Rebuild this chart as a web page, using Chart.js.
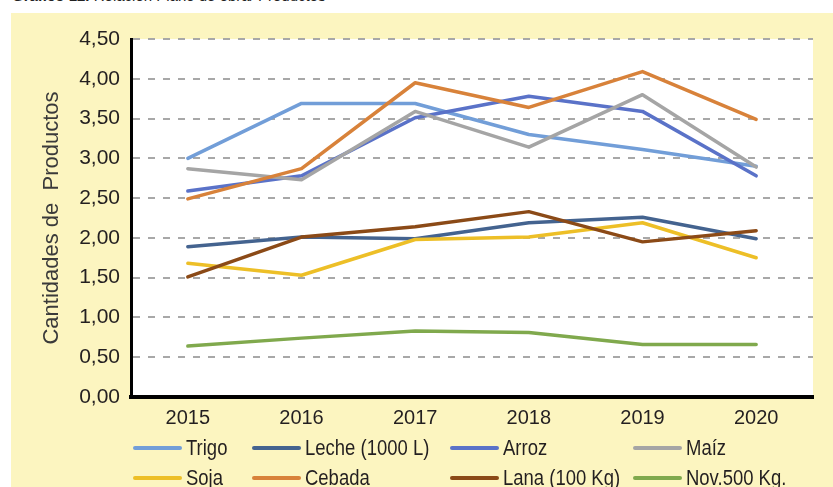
<!DOCTYPE html>
<html>
<head>
<meta charset="utf-8">
<script src="https://cdn.jsdelivr.net/npm/chart.js@4"></script>
<style>
  html, body { margin: 0; padding: 0; background: #fff; }
  #wrap { position: relative; width: 833px; height: 487px; overflow: hidden; }
  #panel { position: absolute; left: 11px; top: 13px; right: 0; bottom: 0; background: #FCF5C0; }
  #caption { position: absolute; left: 12px; top: -13px; font: 15px 'Liberation Sans', Arial, sans-serif; color: #222; white-space: nowrap; }
  #chart { position: absolute; left: 0; top: 0; }
  .leg { position: absolute; height: 26px; display: flex; align-items: center; white-space: nowrap;
         font: 22px 'Liberation Sans', Arial, sans-serif; color: #231F20; }
  .leg .sw { display: inline-block; width: 49px; height: 4px; border-radius: 2px; margin-right: 4px; }
  .leg .tx { display: inline-block; transform: scaleX(0.84); transform-origin: left center; }
</style>
</head>
<body>
<div id="wrap">
  <div id="panel"></div>
  <div id="caption"><b>Gráfico 12.</b> Relación Plano de obra/ Productos</div>
  <canvas id="chart" width="833" height="487"></canvas>
  <div id="legend"></div>
</div>
<script>
// Años del gráfico
const years = ['2015', '2016', '2017', '2018', '2019', '2020'];

// Series (cantidades de productos)
const trigo  = [3.00, 3.69, 3.69, 3.30, 3.11, 2.90];
const leche  = [1.89, 2.01, 1.99, 2.19, 2.26, 1.99];
const arroz  = [2.59, 2.78, 3.51, 3.78, 3.59, 2.78];
const maiz   = [2.87, 2.73, 3.59, 3.14, 3.80, 2.89];
const soja   = [1.68, 1.53, 1.98, 2.01, 2.19, 1.75];
const cebada = [2.49, 2.87, 3.95, 3.64, 4.09, 3.49];
const lana   = [1.51, 2.01, 2.14, 2.33, 1.95, 2.09];
const nov500 = [0.64, 0.74, 0.83, 0.81, 0.66, 0.66];

const seriesNames  = ['Trigo', 'Leche (1000 L)', 'Arroz', 'Maíz', 'Soja', 'Cebada', 'Lana (100 Kg)', 'Nov.500 Kg.'];
const seriesValues = [trigo, leche, arroz, maiz, soja, cebada, lana, nov500];
const seriesColors = ['#729ED8', '#44638F', '#5A72C8', '#A5A5A5', '#EDBF27', '#D8823A', '#8B4A17', '#80A94D'];

// Y axis ticks
const yMin = 0, yMax = 4.5, yStep = 0.5;

const tickFont = { family: "'Liberation Sans', Arial, sans-serif", size: 21 };

// White plot area on top of the yellow panel
const plotBackground = {
  id: 'plotBackground',
  beforeDraw(chart) {
    const { ctx, chartArea: a } = chart;
    ctx.save();
    ctx.fillStyle = '#ffffff';
    ctx.fillRect(a.left, a.top, a.right - a.left, a.bottom - a.top);
    ctx.restore();
  }
};

const datasets = seriesNames.map((name, i) => ({
  label: name,
  data: seriesValues[i],
  borderColor: seriesColors[i],
  backgroundColor: seriesColors[i],
  borderWidth: 3.5,
  pointRadius: 0,
  tension: 0,
  borderCapStyle: 'round',
  borderJoinStyle: 'round',
  order: seriesNames.length - i // later series on top, like Excel
}));

const chart = new Chart(document.getElementById('chart').getContext('2d'), {
  type: 'line',
  data: { labels: years, datasets: datasets },
  options: {
    responsive: false,
    animation: false,
    devicePixelRatio: 1,
    layout: { padding: { top: 39, right: 20, left: 0, bottom: 0 } },
    plugins: { legend: { display: false }, tooltip: { enabled: false } },
    scales: {
      x: {
        offset: true,
        grid: { display: false },
        border: { display: true, color: '#000', width: 4 },
        ticks: { font: { family: tickFont.family, size: 20 }, color: '#231F20', padding: 1, maxRotation: 0 },
        afterFit: s => { s.height = 90; }
      },
      y: {
        min: yMin,
        max: yMax,
        ticks: {
          stepSize: yStep,
          font: tickFont,
          color: '#231F20',
          padding: 11,
          callback: v => v.toFixed(2).replace('.', ',')
        },
        grid: { color: '#A8A8A8', lineWidth: 2, drawTicks: false },
        border: { display: true, color: '#000', width: 3, dash: [7, 8] },
        title: {
          display: true,
          text: 'Cantidades de  Productos',
          font: { family: "'Liberation Sans', Arial, sans-serif", size: 22 },
          color: '#3A3A3A',
          padding: { top: 39, bottom: 0 }
        },
        afterFit: s => { s.width = 131; }
      }
    }
  },
  plugins: [plotBackground]
});

// Legend in a fixed 4-column grid, two rows
const legendCols = [133, 252, 450, 633];
const legendRows = [448, 478];
const legend = document.getElementById('legend');
chart.data.datasets.forEach((ds, i) => {
  const item = document.createElement('div');
  item.className = 'leg';
  item.style.left = legendCols[i % 4] + 'px';
  item.style.top = (legendRows[Math.floor(i / 4)] - 13) + 'px';
  item.innerHTML = `<span class="sw" style="background:${ds.borderColor}"></span><span class="tx">${ds.label}</span>`;
  legend.appendChild(item);
});
</script>
</body>
</html>
